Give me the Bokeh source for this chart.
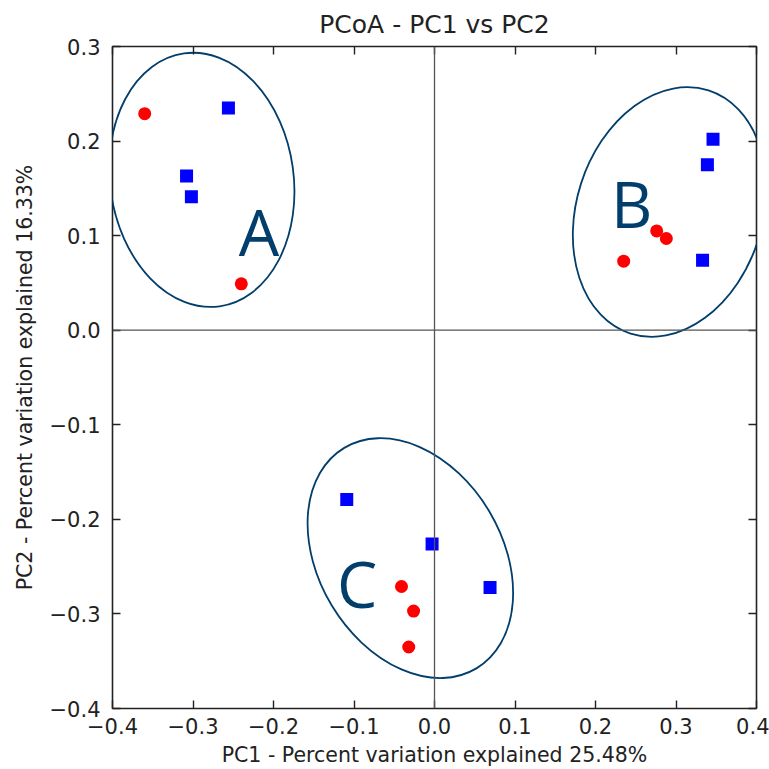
from bokeh.plotting import figure
from bokeh.models import (Range1d, LinearAxis, FixedTicker, CustomJSTickFormatter,
                          Span, ColumnDataSource)
from bokeh.core.properties import value
from bokeh.embed import file_html
from bokeh.resources import INLINE

# ---- data ----
red_x = [-0.360, -0.240, 0.276, 0.288, 0.235, -0.041, -0.026, -0.032]
red_y = [0.229, 0.049, 0.105, 0.097, 0.073, -0.271, -0.297, -0.335]
blue_x = [-0.256, -0.308, -0.302, 0.346, 0.339, 0.333, -0.109, -0.003, 0.069]
blue_y = [0.235, 0.163, 0.141, 0.202, 0.175, 0.074, -0.179, -0.226, -0.272]

group_names = ["A", "B", "C"]
ell_x = [-0.289, 0.292, -0.030]
ell_y = [0.159, 0.125, -0.241]
ell_w = [0.228, 0.231, 0.228]
ell_h = [0.270, 0.270, 0.272]
ell_angle = [0.14, -0.31, 0.54]
lab_x = [-0.218, 0.245, -0.096]
lab_y = [0.104, 0.134, -0.268]

ticks = [-0.4, -0.3, -0.2, -0.1, 0.0, 0.1, 0.2, 0.3, 0.4]
x_title = "PC1 - Percent variation explained 25.48%"
y_title = "PC2 - Percent variation explained 16.33%"
title = "PCoA - PC1 vs PC2"

FONT = "DejaVu Sans"
NAVY = "#023e6c"
INK = "#222222"

p = figure(width=769, height=769, output_backend="svg", toolbar_location=None,
           x_range=Range1d(-0.4, 0.4), y_range=Range1d(-0.4, 0.3),
           x_axis_label=x_title, y_axis_label=y_title, title=title,
           min_border_left=112, min_border_right=13, min_border_top=45,
           min_border_bottom=60)

p.title.text_font = FONT
p.title.text_font_size = "25px"
p.title.text_font_style = "normal"
p.title.text_color = INK
p.title.align = "center"
p.title.standoff = 15

p.grid.visible = False
p.outline_line_color = INK
p.outline_line_width = 1.6
p.background_fill_color = "white"
p.border_fill_color = "white"

fmt = CustomJSTickFormatter(code="""
const s = Math.abs(tick).toFixed(1);
return (tick < -1e-9 ? "\\u2212" : "") + s;
""")
blank = CustomJSTickFormatter(code="return '';")

bottom_ax = p.below[0]
left_ax = p.left[0]
top_ax = LinearAxis()
right_ax = LinearAxis()
p.add_layout(top_ax, "above")
p.add_layout(right_ax, "right")

for ax in [bottom_ax, left_ax, top_ax, right_ax]:
    ax.ticker = FixedTicker(ticks=ticks)
    ax.formatter = fmt
    ax.axis_line_color = None
    ax.major_tick_in = 8
    ax.major_tick_out = 0
    ax.major_tick_line_color = INK
    ax.major_tick_line_width = 1.4
    ax.minor_tick_line_color = None
    ax.major_label_text_font = FONT
    ax.major_label_text_font_size = "21px"
    ax.major_label_text_color = INK
    ax.axis_label_text_font = FONT
    ax.axis_label_text_font_size = "20.5px"
    ax.axis_label_text_font_style = "normal"
    ax.axis_label_text_color = INK

for ax in [top_ax, right_ax]:
    ax.formatter = blank
    ax.major_label_standoff = 0

bottom_ax.major_label_standoff = 9
left_ax.major_label_standoff = 12
bottom_ax.axis_label_standoff = 6
left_ax.axis_label_standoff = 10

p.add_layout(Span(location=0, dimension="height", line_color="#555555", line_width=1.3))
p.add_layout(Span(location=0, dimension="width", line_color="#555555", line_width=1.3))

p.scatter(red_x, red_y, marker="circle", size=13, fill_color="#ff0000", line_color=None)
p.scatter(blue_x, blue_y, marker="square", size=13, fill_color="#0000ff", line_color=None)

p.ellipse(x=ell_x, y=ell_y, width=ell_w, height=ell_h, angle=ell_angle,
          fill_color=None, line_color=NAVY, line_width=1.8)

src = ColumnDataSource(dict(x=lab_x, y=lab_y, t=group_names))
p.text(x="x", y="y", text="t", source=src, text_font=value("Open Sans"),
       text_font_size="64px", text_color=NAVY, text_align="center",
       text_baseline="alphabetic")

open("out.html", "w").write(file_html(p, INLINE))
